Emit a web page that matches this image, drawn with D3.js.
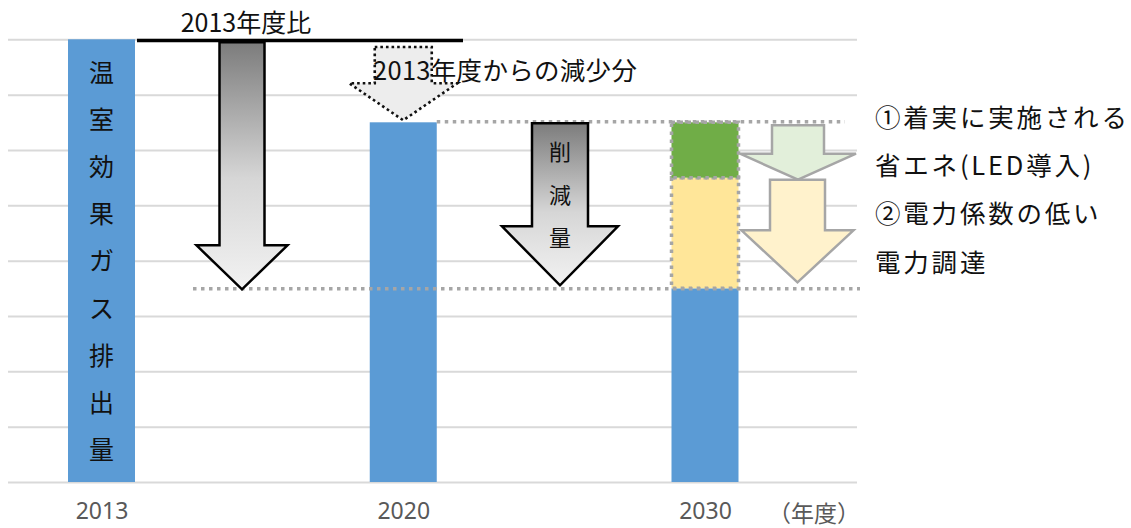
<!DOCTYPE html>
<html>
<head>
<meta charset="utf-8">
<script src="https://cdn.jsdelivr.net/npm/d3@7/dist/d3.min.js"></script>
<style>
  html, body { margin: 0; padding: 0; background: #fff; }
  svg { display: block; font-family: "Noto Sans CJK JP", "Noto Sans", sans-serif; }
</style>
</head>
<body>
<svg id="chart" width="1131" height="528"></svg>
<script>
// Fiscal years on the category axis
const years = ["2013", "2020", "2030"];
// Emission index per year (one grid step = one unit)
const emissions = [8, 6.5, 3.5];
// Breakdown of the 2030 reduction stacked on top of the 2030 bar
const reductionParts = ["saving", "power"];
const reductionValues = [1.0, 2.0];
const reductionFills = ["#70ad47", "#ffe699"];
// Grid ticks
const gridTicks = [0, 1, 2, 3, 4, 5, 6, 7, 8];
// Text
const unitLabel = "（年度）";
const barLabel = "温室効果ガス排出量";
const baseLabel = "2013年度比";
const dropLabel = "2013年度からの減少分";
const cutLabel = "削減量";
const noteLines = ["①着実に実施される", "省エネ(LED導入)", "②電力係数の低い", "電力調達"];

const svg = d3.select("#chart");
const plot = { left: 8, right: 857, top: 39.3, bottom: 482 };

const y = d3.scaleLinear().domain([0, 8]).range([plot.bottom, plot.top]);
const x = d3.scalePoint().domain(years).range([101.5, 705]);
const barW = 67;

// gridlines
svg.append("g")
  .attr("transform", `translate(${plot.left},0)`)
  .call(d3.axisLeft(y).tickValues(gridTicks).tickSize(-(plot.right - plot.left)).tickFormat(""))
  .call(g => g.select(".domain").remove())
  .call(g => g.selectAll(".tick line").attr("stroke", "#d9d9d9").attr("stroke-width", 2));

// year labels
svg.append("g")
  .attr("transform", `translate(0,${plot.bottom})`)
  .call(d3.axisBottom(x).tickSize(0).tickPadding(21))
  .call(g => g.select(".domain").remove())
  .call(g => g.selectAll(".tick text")
    .attr("fill", "#595959")
    .attr("font-size", 23)
    .attr("font-family", "'Noto Sans', 'Noto Sans CJK JP', sans-serif"));

svg.append("text")
  .attr("x", 768).attr("y", 522)
  .attr("fill", "#595959").attr("font-size", 23)
  .text(unitLabel);

// gradient for the solid arrows
const defs = svg.append("defs");
const grad = defs.append("linearGradient").attr("id", "greyFade")
  .attr("x1", 0).attr("y1", 0).attr("x2", 0).attr("y2", 1);
grad.append("stop").attr("offset", "0%").attr("stop-color", "#7c7c7c");
grad.append("stop").attr("offset", "55%").attr("stop-color", "#d6d6d6");
grad.append("stop").attr("offset", "100%").attr("stop-color", "#f2f2f2");

// main bars
svg.append("g").selectAll("rect")
  .data(years.map((yr, i) => ({ yr, v: emissions[i] })))
  .join("rect")
  .attr("x", d => x(d.yr) - barW / 2)
  .attr("y", d => y(d.v))
  .attr("width", barW)
  .attr("height", d => y(0) - y(d.v))
  .attr("fill", "#5b9bd5");

// stacked reduction segments on the 2030 bar:
// power procurement sits directly on the bar, saving above it
const segs = [];
{
  let b = emissions[2];
  [1, 0].forEach(i => {
    segs.push({ k: reductionParts[i], y0: b, y1: b + reductionValues[i], fill: reductionFills[i] });
    b += reductionValues[i];
  });
}
svg.append("g").selectAll("rect")
  .data(segs)
  .join("rect")
  .attr("x", x("2030") - barW / 2)
  .attr("y", d => y(d.y1))
  .attr("width", barW)
  .attr("height", d => y(d.y0) - y(d.y1))
  .attr("fill", d => d.fill)
  .attr("stroke", "#a6a6a6")
  .attr("stroke-width", 3.5)
  .attr("stroke-dasharray", "3.5 4.5");

// dotted reference levels
const topLevel = emissions[1];
const lowLevel = emissions[2];
svg.append("line")
  .attr("x1", x("2020") + barW / 2).attr("x2", 845)
  .attr("y1", y(topLevel) - 0.5).attr("y2", y(topLevel) - 0.5)
  .attr("stroke", "#a6a6a6").attr("stroke-width", 3.5).attr("stroke-dasharray", "3.5 4.5");
svg.append("line")
  .attr("x1", 193).attr("x2", 860)
  .attr("y1", y(lowLevel) + 0.5).attr("y2", y(lowLevel) + 0.5)
  .attr("stroke", "#a6a6a6").attr("stroke-width", 3.5).attr("stroke-dasharray", "3.5 4.5");

// down-arrow outline
function arrowPath(cx, top, tip, shaftHalf, headHalf, headLen) {
  const neck = tip - headLen;
  const p = d3.path();
  p.moveTo(cx - shaftHalf, top);
  p.lineTo(cx + shaftHalf, top);
  p.lineTo(cx + shaftHalf, neck);
  p.lineTo(cx + headHalf, neck);
  p.lineTo(cx, tip);
  p.lineTo(cx - headHalf, neck);
  p.lineTo(cx - shaftHalf, neck);
  p.closePath();
  return p.toString();
}

const midA = 242;
// 2013 baseline bar
svg.append("path")
  .attr("d", arrowPath(midA, y(8) + 3, y(lowLevel) + 1, 22.5, 45.5, 44))
  .attr("fill", "url(#greyFade)").attr("stroke", "#000").attr("stroke-width", 2.5)
  .attr("stroke-linejoin", "miter");
svg.append("line")
  .attr("x1", 137).attr("x2", 463)
  .attr("y1", y(8) + 1.2).attr("y2", y(8) + 1.2)
  .attr("stroke", "#000").attr("stroke-width", 3.6);
svg.append("text")
  .attr("x", 246).attr("y", 32)
  .attr("text-anchor", "middle").attr("font-size", 25).attr("fill", "#111")
  .text(baseLabel);

// dotted arrow over 2020
svg.append("path")
  .attr("d", arrowPath(x("2020"), 47, y(topLevel) - 2, 28.5, 54, 37))
  .attr("fill", "#ededed").attr("stroke", "#111").attr("stroke-width", 2.6)
  .attr("stroke-dasharray", "2.6 3");
svg.append("text")
  .attr("x", 373).attr("y", 80)
  .attr("font-size", 25.5).attr("letter-spacing", 0.3).attr("fill", "#111")
  .text(dropLabel);

// reduction arrow between 2020 and 2030
const midB = 560;
svg.append("path")
  .attr("d", arrowPath(midB, y(topLevel) + 1, y(lowLevel) - 3, 28, 58, 59))
  .attr("fill", "url(#greyFade)").attr("stroke", "#000").attr("stroke-width", 2.5);
svg.append("g").selectAll("text")
  .data(Array.from(cutLabel))
  .join("text")
  .attr("x", midB).attr("y", (d, i) => 160 + i * 43)
  .attr("text-anchor", "middle").attr("font-size", 22).attr("fill", "#111")
  .text(d => d);

// breakdown arrows beside 2030
const midC = 798;
svg.append("path")
  .attr("d", arrowPath(midC, y(topLevel) + 3, y(segs[0].y1) + 2, 26, 58, 26))
  .attr("fill", "#e2efda").attr("stroke", "#a6a6a6").attr("stroke-width", 2.5);
svg.append("path")
  .attr("d", arrowPath(midC - 0.5, y(segs[0].y1) + 2, y(lowLevel) - 6, 27.5, 56, 52))
  .attr("fill", "#fff2cc").attr("stroke", "#a6a6a6").attr("stroke-width", 2.5);

// vertical label inside the 2013 bar
svg.append("g").selectAll("text")
  .data(Array.from(barLabel))
  .join("text")
  .attr("x", x("2013")).attr("y", (d, i) => 82 + i * 47.1)
  .attr("text-anchor", "middle").attr("font-size", 25).attr("fill", "#111")
  .text(d => d);

// notes on the right
svg.append("g").selectAll("text")
  .data(noteLines)
  .join("text")
  .attr("x", 875).attr("y", (d, i) => 127 + i * 48.2)
  .attr("font-size", 25.5).attr("letter-spacing", 2.8).attr("fill", "#111")
  .text(d => d);
</script>
</body>
</html>
